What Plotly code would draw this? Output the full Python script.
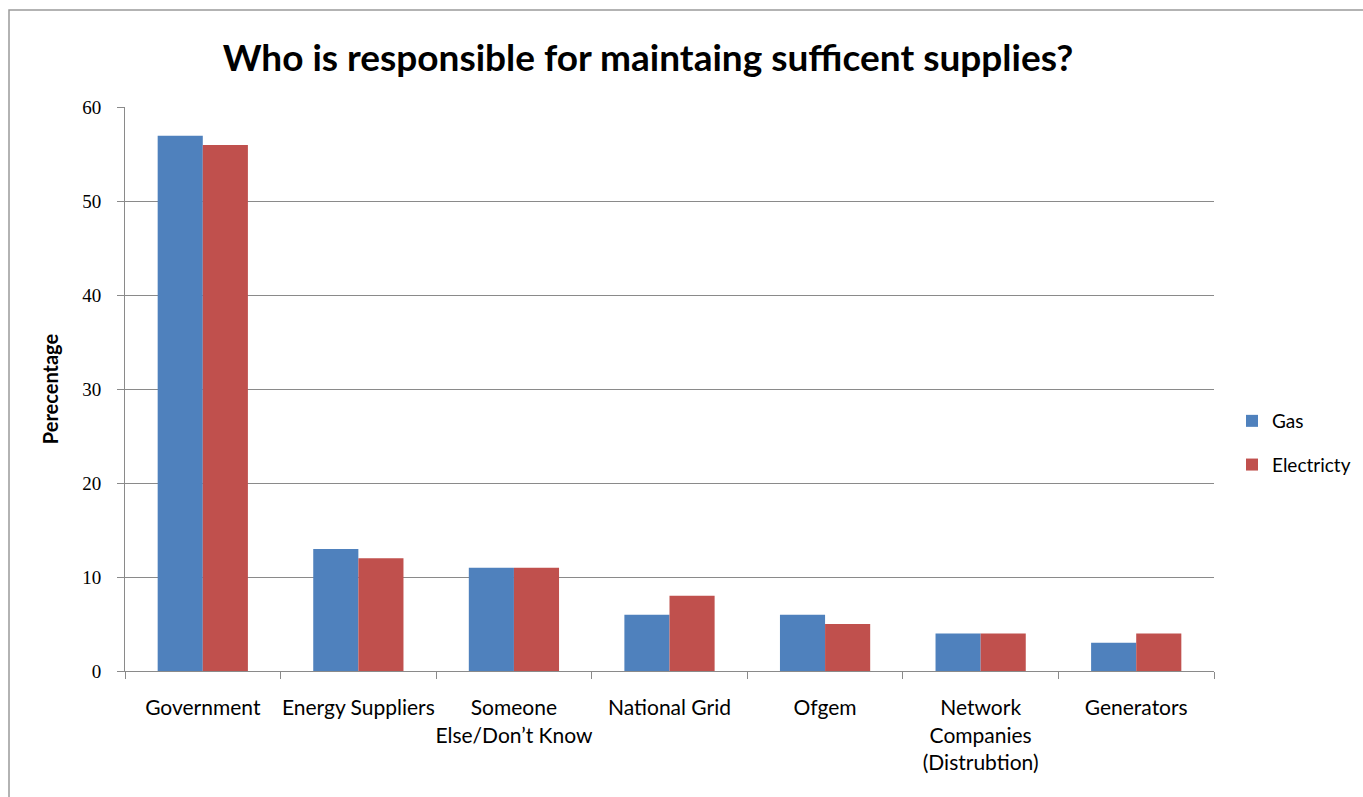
import plotly.graph_objects as go

categories = ["Government", "Energy Suppliers", "Someone<br>Else/Don’t Know", "National Grid",
              "Ofgem", "Network<br>Companies<br>(Distrubtion)", "Generators"]
gas = [57, 13, 11, 6, 6, 4, 3]
electricity = [56, 12, 11, 8, 5, 4, 4]
y_ticks = [0, 10, 20, 30, 40, 50, 60]

W, H = 1363, 797
L, R, T, B = 125, 149, 107, 126
pw, ph = W - L - R, H - T - B

def px_x(x):
    return (x - L) / pw

def px_y(y):
    return (H - B - y) / ph

fig = go.Figure()
fig.add_trace(go.Bar(x=categories, y=gas, name="Gas", legendgroup="g1",
                     marker=dict(color="#4F81BD", line=dict(width=0))))
fig.add_trace(go.Bar(x=categories, y=electricity, name="Electricty", legendgroup="g2",
                     marker=dict(color="#C0504D", line=dict(width=0))))

fig.update_layout(
    width=W, height=H,
    margin=dict(l=L, r=R, t=T, b=B, autoexpand=False),
    paper_bgcolor="white", plot_bgcolor="white",
    barmode="group", bargap=0.42, bargroupgap=0,
    font=dict(family="Lato, Open Sans, sans-serif", color="black"),
    title=dict(text="<b>Who is responsible for maintaing sufficent supplies?</b>",
               x=px_x(648), xref="paper", xanchor="center",
               y=1 - 58 / H, yref="container", yanchor="middle",
               font=dict(size=37, family="Lato, sans-serif", color="black")),
    legend=dict(x=px_x(1232), y=px_y(443), xanchor="left", yanchor="middle",
                font=dict(size=19, family="Lato, sans-serif"), tracegroupgap=16,
                traceorder="grouped", itemwidth=30, bgcolor="rgba(0,0,0,0)"),
    showlegend=True,
)
fig.update_yaxes(range=[0, 60.05], tickvals=y_ticks, showgrid=True, gridcolor="#8a8a8a", gridwidth=1,
                 showline=True, linecolor="#8a8a8a", linewidth=1, ticks="outside", ticklen=7,
                 tickcolor="#8a8a8a", zeroline=False, ticklabelstandoff=12,
                 tickfont=dict(size=19, family="Liberation Serif, serif", color="black"),
                 title=dict(text="<b>Perecentage</b>", font=dict(size=20, family="Lato, sans-serif"), standoff=18))
fig.update_xaxes(showline=True, linecolor="#8a8a8a", linewidth=1, ticks="outside", ticklen=7,
                 tickcolor="#8a8a8a", tickson="boundaries", showgrid=False, tickangle=0,
                 tickfont=dict(size=21, family="Lato, sans-serif", color="black"),
                 ticklabelstandoff=18)

fig.add_shape(type="rect", xref="paper", yref="paper",
              x0=px_x(9), x1=px_x(1400), y0=px_y(830), y1=px_y(10),
              line=dict(color="#9a9a9a", width=1.5), fillcolor="rgba(0,0,0,0)", layer="below")

fig.write_html("out.html")
